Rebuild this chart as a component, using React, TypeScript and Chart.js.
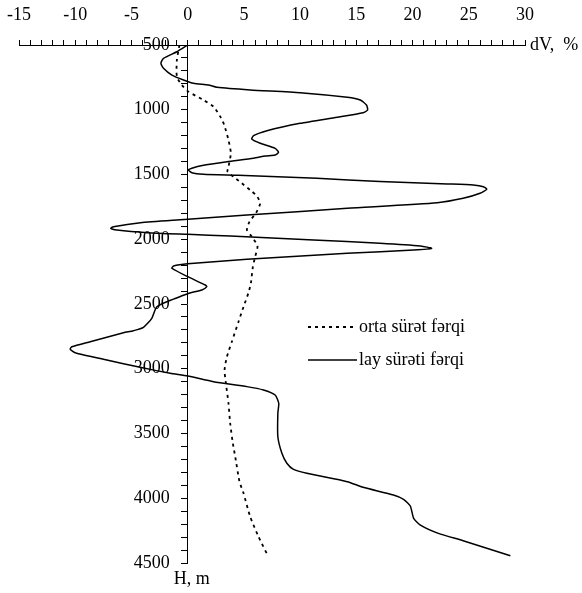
import React, { useEffect, useRef } from 'react';
import { Chart, registerables } from 'chart.js';

Chart.register(...registerables);

// ---- data ----
const layDepth = [500, 552, 603, 641, 680, 732, 770, 796, 809, 827, 847, 868, 904, 925, 963, 1002, 1023, 1058, 1105, 1162, 1200, 1226, 1259, 1298, 1329, 1349, 1357, 1375, 1401, 1430, 1452, 1465, 1486, 1498, 1506, 1529, 1555, 1573, 1581, 1594, 1614, 1645, 1684, 1718, 1761, 1813, 1848, 1872, 1903, 1916, 1929, 1949, 1962, 1975, 2006, 2031, 2052, 2070, 2083, 2109, 2155, 2190, 2207, 2224, 2289, 2353, 2366, 2392, 2415, 2440, 2460, 2521, 2611, 2680, 2706, 2722, 2791, 2830, 2848, 2876, 2932, 2989, 3035, 3056, 3100, 3138, 3164, 3203, 3267, 3344, 3525, 3653, 3730, 3777, 3807, 3872, 3915, 3975, 4008, 4060, 4155, 4207, 4271, 4328, 4444];
const layDiff = [0, -0.96, -2.15, -2.38, -2.15, -1.4, -0.37, 0.52, 1.85, 2.6, 5.56, 10.0, 14.2, 15.35, 15.9, 16.0, 15.6, 13.3, 10.0, 7.05, 5.86, 5.7, 6.45, 7.78, 8.08, 7.78, 6.9, 5.86, 3.5, 1.3, 0.37, 0.07, 0.37, 1.4, 4.5, 11.5, 17.1, 23.1, 25.4, 26.3, 26.6, 26.0, 24.5, 22.2, 14.2, 5.27, -0.3, -4.2, -6.6, -6.83, -6.3, -3.6, 0, 3.8, 11.2, 17.1, 20.7, 21.7, 20.1, 14.2, 5.27, 0, -1.26, -1.4, 0, 1.56, 1.7, 1.26, 0.2, -0.6, -1.2, -2.74, -3.19, -3.93, -4.82, -5.71, -8.67, -10.3, -10.45, -10.0, -7.19, -4.23, -1.56, 0, 2.3, 5.27, 6.74, 7.78, 8.1, 8.02, 8.02, 8.38, 8.82, 9.41, 10.6, 14.2, 15.6, 18.3, 19.2, 19.8, 20.1, 20.7, 22.3, 24.5, 28.7];

const ortaDepth = [500, 616, 745, 809, 860, 925, 976, 1053, 1118, 1234, 1336, 1440, 1478, 1517, 1568, 1620, 1666, 1722, 1795, 1864, 1929, 1980, 2052, 2135, 2212, 2340, 2413, 2521, 2637, 2791, 2907, 3010, 3112, 3267, 3421, 3576, 3679, 3872, 3962, 4142, 4297, 4438];
const ortaDiff = [-0.73, -0.96, -0.96, -0.52, 0.07, 1.4, 2.3, 2.9, 3.25, 3.63, 3.84, 3.63, 3.54, 4.07, 4.82, 5.56, 6.15, 6.45, 6.09, 5.5, 5.27, 5.71, 6.21, 6.0, 5.8, 5.62, 5.41, 4.97, 4.52, 3.93, 3.49, 3.28, 3.4, 3.63, 3.78, 4.02, 4.23, 4.61, 4.97, 5.56, 6.3, 7.1];

const xMin = -15;
const xMax = 30;
const xStep = 1;
const xLabelEvery = 5;
const yMin = 500;
const yMax = 4500;
const yStep = 100;
const yLabelEvery = 500;

const seriesLabels = ['orta sürət fərqi', 'lay sürəti fərqi'];
const xAxisTitle = 'dV,  %';
const yAxisTitle = 'H, m';

const FONT = "'Liberation Serif', 'Times New Roman', serif";
const Y_LABEL_GAP = '\u2002\u2002';

export default function App() {
  const ref = useRef<HTMLCanvasElement>(null);

  useEffect(() => {
    const canvas = ref.current;
    if (!canvas) return;
    Chart.defaults.color = '#000';
    const toPts = (xs: number[], ys: number[]) => ys.map((y, i) => ({ x: xs[i], y }));

    const extraText = {
      id: 'extraText',
      afterDraw(chart: any) {
        const c = chart.ctx;
        const area = chart.chartArea;
        const xs = chart.scales.x;
        c.save();
        c.fillStyle = '#000';
        c.font = `18px ${FONT}`;
        c.textBaseline = 'middle';
        c.textAlign = 'left';
        c.fillText(xAxisTitle, area.right + 5, area.top);
        c.fillText(yAxisTitle, xs.getPixelForValue(0) - 14, area.bottom + 16);
        // legend
        const lx = 308;
        const ly = 327;
        const gap = 33;
        const len = 49;
        chart.data.datasets.forEach((ds: any, i: number) => {
          const y = ly + i * gap;
          c.beginPath();
          c.setLineDash(ds.borderDash || []);
          c.lineWidth = ds.borderWidth;
          c.strokeStyle = ds.borderColor;
          c.moveTo(lx, y);
          c.lineTo(lx + len, y);
          c.stroke();
          c.setLineDash([]);
          c.fillText(ds.label, lx + len + 2, y);
        });
        c.restore();
      },
    };

    const chart = new Chart(canvas, {
      type: 'scatter',
      data: {
        datasets: [
          {
            label: seriesLabels[0],
            data: toPts(ortaDiff, ortaDepth),
            showLine: true,
            borderColor: '#000',
            backgroundColor: '#000',
            borderWidth: 1.8,
            borderDash: [3, 4],
            pointRadius: 0,
            tension: 0.2,
            fill: false,
          },
          {
            label: seriesLabels[1],
            data: toPts(layDiff, layDepth),
            showLine: true,
            borderColor: '#000',
            backgroundColor: '#000',
            borderWidth: 1.5,
            pointRadius: 0,
            tension: 0.2,
            fill: false,
          },
        ],
      },
      options: {
        responsive: false,
        animation: false,
        layout: { padding: { left: 19, right: 57, top: -9, bottom: 30 } },
        plugins: { legend: { display: false }, tooltip: { enabled: false } },
        scales: {
          x: {
            type: 'linear',
            position: 'top',
            min: xMin,
            max: xMax,
            border: { display: true, color: '#000', width: 1 },
            grid: { drawOnChartArea: false, drawTicks: true, tickLength: 5, color: '#000', lineWidth: 1 },
            ticks: {
              stepSize: xStep,
              autoSkip: false,
              maxRotation: 0,
              minRotation: 0,
              padding: 2,
              color: '#000',
              font: { family: FONT, size: 18, lineHeight: 2.5 },
              callback: (v: any) => (Math.round(v) % xLabelEvery === 0 ? String(Math.round(v)) : ''),
            },
          },
          y: {
            type: 'linear',
            position: { x: 0 } as any,
            reverse: true,
            min: yMin,
            max: yMax,
            border: { display: true, color: '#000', width: 1 },
            grid: { drawOnChartArea: false, drawTicks: true, tickLength: 6, color: '#000', lineWidth: 1 },
            ticks: {
              stepSize: yStep,
              autoSkip: false,
              padding: 10,
              color: '#000',
              font: { family: FONT, size: 18 },
              callback: (v: any) => (Math.round(v) % yLabelEvery === 0 ? String(Math.round(v)) + Y_LABEL_GAP : ''),
            },
          },
        },
      },
      plugins: [extraText],
    });

    return () => chart.destroy();
  }, []);

  return (
    <div style={{ position: 'absolute', left: 0, top: 0, width: 582, height: 593, background: '#fff' }}>
      <canvas ref={ref} width={582} height={593} style={{ display: 'block' }} />
    </div>
  );
}
